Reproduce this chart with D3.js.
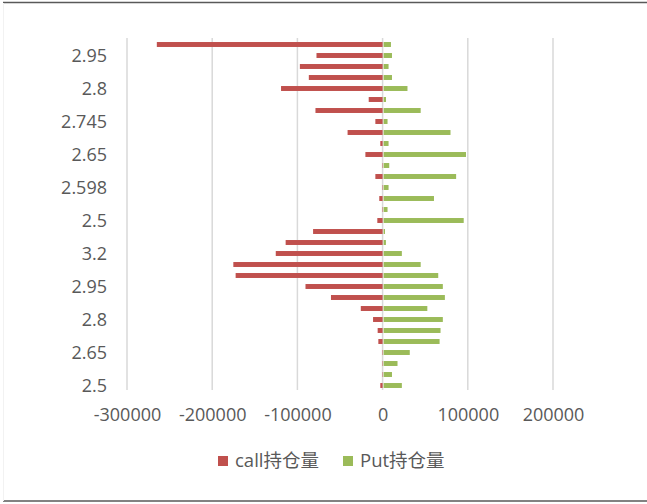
<!DOCTYPE html>
<html><head><meta charset="utf-8">
<script src="https://cdn.jsdelivr.net/npm/d3@7"></script>
<style>
html,body{margin:0;padding:0;background:#fff;}
svg{display:block;}
</style></head>
<body><svg id="chart" width="647" height="504"></svg>
<script>
// categories listed from bottom (first) to top (last), as in the source chart
const categories = ["2.5","2.55","2.6","2.65","2.7","2.75","2.8","2.85","2.9","2.95","3","3.1","3.2","3.3","3.4",
  "2.5","2.549","2.55","2.598","2.6","2.647","2.65","2.696","2.7","2.745","2.75","2.794","2.8","2.85","2.9","2.95","3"];
const callOI = [-2700,-500,-500,-500,-5000,-5800,-11200,-25600,-60600,-90500,-172500,-175200,-125400,-113800,-81600,
  -6200,-500,-3900,-500,-8500,-500,-20200,-2700,-41100,-8500,-78800,-16300,-119200,-86600,-97100,-77600,-265000];
const putOI = [22600,11000,17500,31900,66900,68000,70700,52500,73100,70700,65300,44700,22600,3900,2800,
  95200,5800,60300,7000,86300,7800,97900,7000,79700,5800,44700,4000,29200,11000,7000,11000,9800];
const xTicks = [-300000,-200000,-100000,0,100000,200000];
const seriesNames = ["call持仓量","Put持仓量"];
const colors = ["#C0504D","#9BBB59"];

(function(){
const svg = d3.select("#chart");
const font = "'Open Sans','Noto Sans CJK SC',sans-serif";
const pL = 127, pR = 553, pT = 39, pB = 391;

// frame lines
svg.append("line").attr("x1",3).attr("x2",647).attr("y1",2.5).attr("y2",2.5).attr("stroke","#595959").attr("stroke-width",1.5);
svg.append("line").attr("x1",3).attr("x2",647).attr("y1",501).attr("y2",501).attr("stroke","#595959").attr("stroke-width",1.5);
svg.append("line").attr("x1",3.5).attr("x2",3.5).attr("y1",3).attr("y2",501).attr("stroke","#f2f2f2").attr("stroke-width",1);

const x = d3.scaleLinear().domain([-300000,200000]).range([pL,pR]);
const idx = d3.range(categories.length);
const y = d3.scaleBand().domain(idx).range([pB, pT]).paddingInner(0.55).paddingOuter(0.275);

// gridlines
svg.append("g").selectAll("line").data(xTicks).join("line")
  .attr("x1",d=>x(d)).attr("x2",d=>x(d)).attr("y1",38).attr("y2",390)
  .attr("stroke","#D9D9D9").attr("stroke-width",1.5);

// bars
const bw = y.bandwidth();
svg.append("g").selectAll("rect").data(idx).join("rect")
  .attr("x",i=>x(Math.min(0,callOI[i]))).attr("width",i=>Math.abs(x(callOI[i])-x(0)))
  .attr("y",i=>y(i)).attr("height",bw).attr("fill",colors[0]);
svg.append("g").selectAll("rect").data(idx).join("rect")
  .attr("x",i=>x(0)+1).attr("width",i=>Math.max(0,x(putOI[i])-x(0)-1))
  .attr("y",i=>y(i)).attr("height",bw).attr("fill",colors[1]);

// y axis labels (every third category)
const yAxis = d3.axisLeft(y).tickValues(idx.filter(i=>i%3===0)).tickFormat(i=>categories[i]).tickSize(0).tickPadding(0);
const gy = svg.append("g").attr("transform",`translate(${107},0)`).call(yAxis);
gy.select(".domain").remove();
gy.selectAll("text").attr("font-family",font).attr("font-size",18).attr("fill","#595959").attr("dy","0.35em");

// x axis labels
const xAxis = d3.axisBottom(x).tickValues(xTicks).tickFormat(d=>String(d)).tickSize(0).tickPadding(0);
const gx = svg.append("g").attr("transform",`translate(0,${408})`).call(xAxis);
gx.select(".domain").remove();
gx.selectAll("text").attr("font-family",font).attr("font-size",18).attr("fill","#595959").attr("dy","0.71em");

// legend
const legendX = [218, 343];
const lg = svg.append("g").selectAll("g").data(seriesNames).join("g")
  .attr("transform",(d,i)=>`translate(${legendX[i]},${455})`);
lg.append("rect").attr("width",10).attr("height",10).attr("y",1).attr("fill",(d,i)=>colors[i]);
lg.append("text").attr("x",17).attr("y",6).attr("dy","0.35em").text(d=>d)
  .attr("font-family",font).attr("font-size",18.5).attr("fill","#595959");
})();
</script></body></html>
